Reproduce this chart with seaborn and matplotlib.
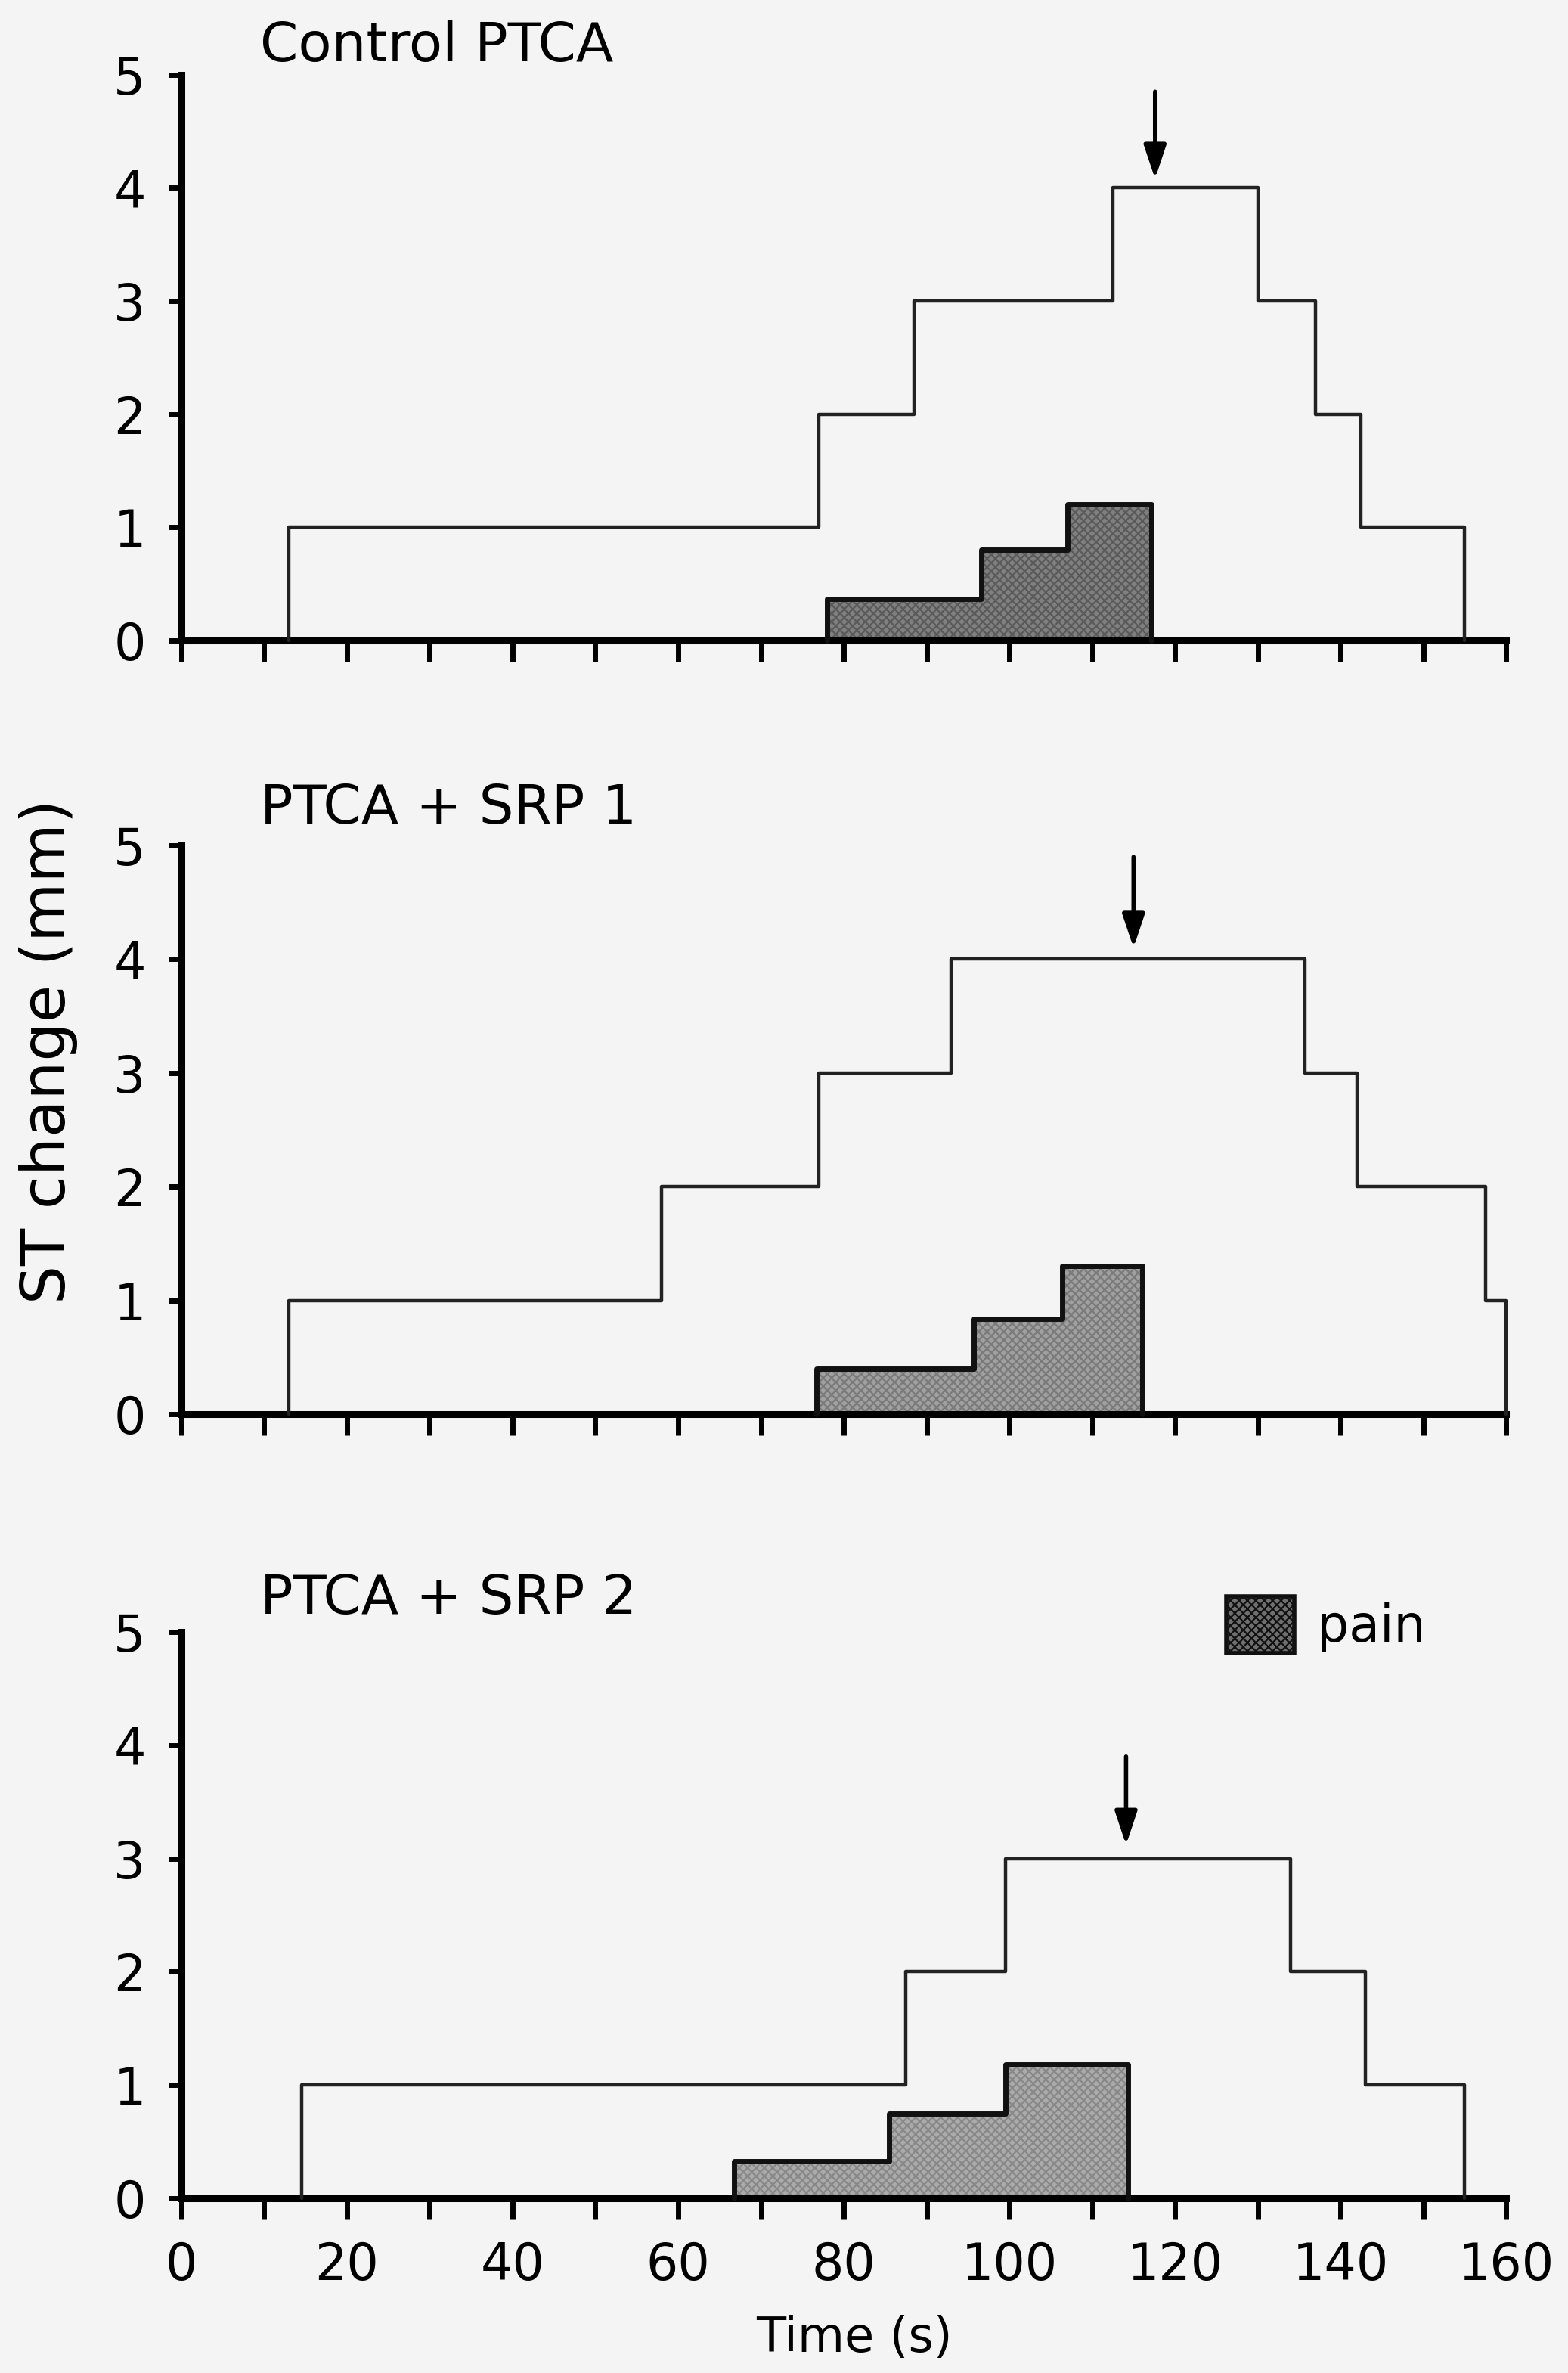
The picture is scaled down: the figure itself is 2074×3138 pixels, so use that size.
import numpy as np
import pandas as pd
import seaborn as sns
import matplotlib.pyplot as plt
from matplotlib.patches import Patch

# --------------
# values
panel_titles = ['Control PTCA', 'PTCA + SRP 1', 'PTCA + SRP 2']

# ST change steps: edges (s) and level (mm) between consecutive edges
st_edges = [
    [13, 77, 88.5, 112.5, 130, 137, 142.5, 155],
    [13, 58, 77, 93, 135.7, 142, 157.5, 160],
    [14.5, 87.5, 99.5, 134, 143, 155],
]
st_levels = [
    [1, 2, 3, 4, 3, 2, 1],
    [1, 2, 3, 4, 3, 2, 1],
    [1, 2, 3, 2, 1],
]

# pain episodes
pain_edges = [
    [78, 96.6, 107, 117.2],
    [76.7, 95.7, 106.4, 116.1],
    [66.8, 85.5, 99.5, 114.3],
]
pain_levels = [
    [0.37, 0.80, 1.20],
    [0.40, 0.84, 1.30],
    [0.33, 0.75, 1.18],
]

# arrows (time, tip, tail)
arrow_time = [117.6, 115.0, 114.1]
arrow_tip = [4.08, 4.10, 3.12]
arrow_tail = [4.85, 4.90, 3.90]

time_ticks = list(range(0, 161, 10))
time_labels = [str(t) if t % 20 == 0 else '' for t in time_ticks]
st_ticks = [0, 1, 2, 3, 4, 5]


def step_frame(edges, levels):
    # closed outline starting and ending on the baseline
    x = [edges[0]] + list(edges)
    y = [0] + list(levels) + [0]
    return pd.DataFrame({'time': x, 'st': y})


# --------------
sns.set_style('ticks')
plt.rcParams['font.family'] = ['DejaVu Sans']
plt.rcParams['hatch.linewidth'] = 1.6
plt.rcParams['text.color'] = 'black'

bg = '#f4f4f4'
fig = plt.figure(figsize=(20.74, 31.38), dpi=100, facecolor=bg)

rects = [
    [0.1157, 0.7301, 0.8448, 0.2384],
    [0.1157, 0.4041, 0.8448, 0.2396],
    [0.1157, 0.0736, 0.8448, 0.2387],
]
pain_face = ['#808080', '#a0a0a0', '#ababab']
pain_hatch = ['#5a5a5a', '#7a7a7a', '#888888']
title_y = [5.25, 5.32, 5.29]

for i in range(3):
    ax = fig.add_axes(rects[i])
    ax.set_facecolor(bg)

    # pain area
    pe = pain_edges[i]
    pl = pain_levels[i]
    ax.fill_between(pe, pl + [pl[-1]], step='post', facecolor=pain_face[i],
                    edgecolor=pain_hatch[i], hatch='xxx', linewidth=0, zorder=2)
    sns.lineplot(data=step_frame(pe, pl), x='time', y='st', estimator=None,
                 sort=False, drawstyle='steps-post', color='#111111', lw=5,
                 ax=ax, zorder=3, clip_on=False)

    # ST change outline
    sns.lineplot(data=step_frame(st_edges[i], st_levels[i]), x='time', y='st',
                 estimator=None, sort=False, drawstyle='steps-post',
                 color='#222222', lw=3.2, ax=ax, zorder=4, clip_on=False)

    ax.annotate('', xy=(arrow_time[i], arrow_tip[i]),
                xytext=(arrow_time[i], arrow_tail[i]),
                arrowprops=dict(arrowstyle='-|>,head_length=0.9,head_width=0.3',
                                lw=4, color='black', shrinkA=0, shrinkB=0,
                                mutation_scale=30))

    ax.text(9.5, title_y[i], panel_titles[i], fontsize=52, ha='left', va='center')

    ax.set_xlim(0, 160)
    ax.set_ylim(0, 5)
    ax.set_xticks(time_ticks)
    ax.set_yticks(st_ticks)
    ax.set_yticklabels([str(v) for v in st_ticks])
    if i == 2:
        ax.set_xticklabels(time_labels)
    else:
        ax.set_xticklabels([''] * len(time_ticks))
    ax.set_xlabel('')
    ax.set_ylabel('')

    sns.despine(ax=ax)
    for s in ['left', 'bottom']:
        ax.spines[s].set_linewidth(6.5)
        ax.spines[s].set_color('black')
    ax.tick_params(axis='x', direction='out', length=20, width=5, pad=20,
                   labelsize=48, colors='black')
    ax.tick_params(axis='y', direction='out', length=12, width=5, pad=22,
                   labelsize=48, colors='black')

    if i == 2:
        handle = Patch(facecolor='#6f6f6f', edgecolor='#111111', hatch='xxx', lw=4)
        ax.legend(handles=[handle], labels=['pain'], loc='center left',
                  bbox_to_anchor=(0.789, 1.013), frameon=False, fontsize=48,
                  handlelength=1.35, handleheight=1.35, borderpad=0,
                  borderaxespad=0, handletextpad=0.45)

fig.text(0.031, 0.557, 'ST change (mm)', rotation=90, fontsize=58,
         ha='center', va='center')
fig.text(0.545, 0.0145, 'Time (s)', fontsize=46, ha='center', va='center')

fig.savefig('out.png', dpi=100, facecolor=bg)
